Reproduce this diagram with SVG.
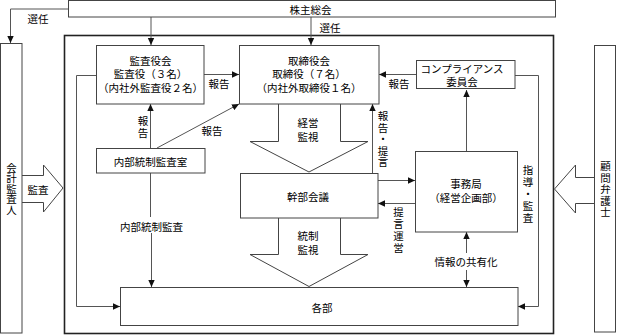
<svg xmlns="http://www.w3.org/2000/svg" width="619" height="336" viewBox="0 0 619 336">
<defs>
<marker id="ah" markerUnits="userSpaceOnUse" markerWidth="8" markerHeight="8" refX="7" refY="4" orient="auto">
<path d="M0,0.8 L7,4 L0,7.2 z" fill="#111"/>
</marker>
<style>
text{font-family:"Noto Sans CJK JP","Noto Sans CJK SC",sans-serif;font-size:10.5px;fill:#000;text-anchor:middle;dominant-baseline:central}
.v{writing-mode:vertical-rl;text-orientation:upright}
.box{fill:#fff;stroke:#444;stroke-width:1}
.frame{fill:none;stroke:#222;stroke-width:1.6}
.ln{fill:none;stroke:#555;stroke-width:1}
.arr{fill:none;stroke:#555;stroke-width:1;marker-end:url(#ah)}
.blk{fill:#fff;stroke:#444;stroke-width:1}
</style>
</defs>
<rect width="619" height="336" fill="#fff"/>
<rect class="frame" x="64.5" y="35.5" width="489" height="298"/>
<g id="connectors">
<path class="arr" d="M68,9 H10.5 V43"/>
<path class="arr" d="M151,17 V45"/>
<path class="arr" d="M311,17 V45"/>
<path class="arr" d="M204,74.5 H239"/>
<path class="arr" d="M416,74.5 H379"/>
<path class="arr" d="M515,75.5 H538.5 V306.5 H518"/>
<path class="arr" d="M466.5,151 V90"/>
<path class="arr" d="M150.5,148 V104"/>
<path class="arr" d="M157,148 L239,104"/>
<path class="ln" d="M150.5,173 V217"/>
<path class="arr" d="M151.5,233 V287"/>
<path class="arr" d="M96,75.5 H76.5 V306.5 H120"/>
<path class="arr" d="M372.5,173 V104"/>
<path class="arr" d="M378,180.5 H415"/>
<path class="arr" d="M415,203.5 H378"/>
<path class="arr" d="M466.5,253 V232"/>
<path class="arr" d="M466.5,270 V287"/>
<path class="blk" d="M278.5,104 V141.5 H250 L309,172 L368,141.5 H340.5 V104"/>
<path class="blk" d="M278.5,218 V254.5 H250 L309,286.5 L368,254.5 H340.5 V218"/>
<path class="blk" d="M22,175.5 H43.5 V165 L63,188 L43.5,212 V202.5 H22"/>
<path class="blk" d="M594,177.5 H575.5 V165 L554.5,189 L575.5,213 V203.5 H594"/>
</g>
<g id="kabunushi"><rect class="box" x="68.5" y="0.5" width="487" height="16.5"/><text x="310.5" y="9">株主総会</text></g>
<g id="kaikei"><rect class="box" x="0.5" y="43.5" width="21.5" height="289.5"/><text class="v" x="11.5" y="189">会計監査人</text></g>
<g id="komon"><rect class="box" x="594.5" y="45.5" width="21" height="286.5"/><text class="v" x="605.5" y="190" letter-spacing="1">顧問弁護士</text></g>
<g id="kansayakukai"><rect class="box" x="96.5" y="45.5" width="107.5" height="58.5"/><text x="150.5" y="60">監査役会</text><text x="150.5" y="73.5">監査役（３名）</text><text x="150.5" y="87">（内社外監査役２名）</text></g>
<g id="torishimariyakukai"><rect class="box" x="239.5" y="45.5" width="139.5" height="58.5"/><text x="309" y="60">取締役会</text><text x="309" y="73.5">取締役（７名）</text><text x="309" y="87">（内社外取締役１名）</text></g>
<g id="compliance"><rect class="box" x="416.5" y="60.5" width="98.5" height="28"/><text x="462" y="68">コンプライアンス</text><text x="462" y="81.5">委員会</text></g>
<g id="naibu"><rect class="box" x="96.5" y="148.5" width="108.5" height="24.5"/><text x="150.5" y="161">内部統制監査室</text></g>
<g id="kanbu"><rect class="box" x="240.5" y="173.5" width="137.5" height="44.5"/><text x="308" y="196">幹部会議</text></g>
<g id="jimukyoku"><rect class="box" x="415.5" y="151.5" width="102" height="80.5"/><text x="466" y="183">事務局</text><text x="466" y="197">（経営企画部）</text></g>
<g id="kakubu"><rect class="box" x="120.5" y="287.5" width="397.5" height="38"/><text x="322" y="307.5">各部</text></g>
<g id="labels">
<text x="38" y="18">選任</text>
<text x="330" y="27">選任</text>
<text x="219" y="83">報告</text>
<text x="399" y="83">報告</text>
<text x="38" y="189">監査</text>
<text class="v" x="143" y="128" letter-spacing="1.5">報告</text>
<text x="212" y="130">報告</text>
<text x="151.5" y="226.5">内部統制監査</text>
<text x="308" y="122">経営</text>
<text x="308" y="136">監視</text>
<text x="308" y="235">統制</text>
<text x="308" y="249">監視</text>
<text class="v" x="383" y="140" letter-spacing="1">報告・提言</text>
<text class="v" x="398.5" y="231" letter-spacing="1.5">提言運営</text>
<text class="v" x="528" y="195" letter-spacing="1.5">指導・監査</text>
<text x="466" y="261.5">情報の共有化</text>
</g>
</svg>
